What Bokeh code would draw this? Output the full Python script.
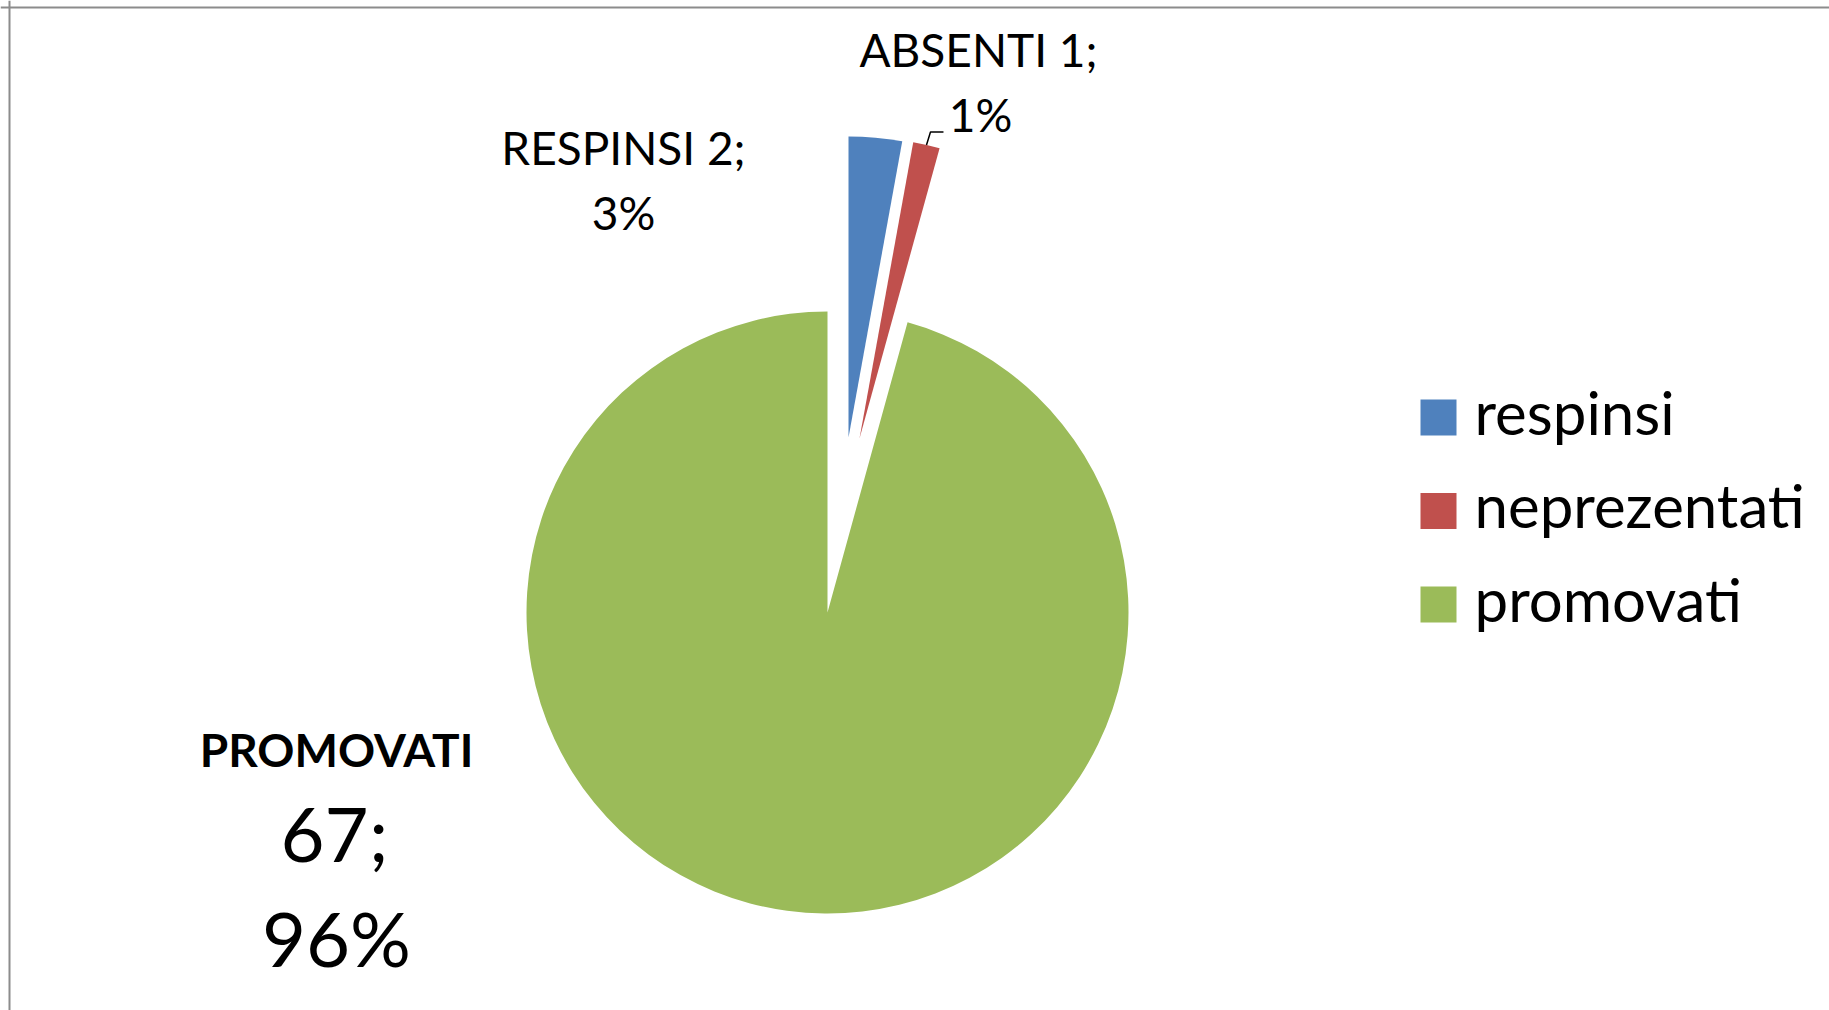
import math
from bokeh.plotting import figure
from bokeh.models import Range1d, Span
from bokeh.core.properties import value
from bokeh.embed import file_html
from bokeh.resources import INLINE

# ---- data ----
categories = ["respinsi", "neprezentati", "promovati"]
label_names = ["RESPINSI", "ABSENTI", "PROMOVATI"]
counts = [2, 1, 67]
colors = ["#4F81BD", "#C0504D", "#9BBB59"]

# ---- layout / style ----
W, H = 1829, 1010
FONT = "Lato"
BL = 0.4  # baseline correction (em)
p = figure(width=W, height=H, x_range=Range1d(0, W), y_range=Range1d(-H, 0),
           output_backend="svg", toolbar_location=None, min_border=0)
p.axis.visible = False
p.grid.visible = False
p.outline_line_color = None
p.background_fill_color = "white"
p.border_fill_color = "white"

# frame lines (left, top)
p.add_layout(Span(location=9, dimension="height", line_color="#8c8c8c", line_width=2))
p.add_layout(Span(location=-7, dimension="width", line_color="#8c8c8c", line_width=2))


def txt(x, baseline, s, size, align="center", bold=False):
    p.text(x=[x], y=[-(baseline - BL * size)], text=[s], text_align=align,
           text_baseline="alphabetic", text_font=value(FONT),
           text_font_style="bold" if bold else "normal",
           text_font_size=f"{size}px", text_color="black")


total = sum(counts)
cx, cy, r = 827, -612, 301
explode = [(21, 175), (32, 174), (0, 0)]  # per-slice explosion offset (px)

starts, ends, mids = [], [], []
acc = 0
for v in counts:
    a0 = 2 * math.pi * acc / total
    acc += v
    a1 = 2 * math.pi * acc / total
    starts.append(math.pi / 2 - a0)
    ends.append(math.pi / 2 - a1)
    mids.append((a0 + a1) / 2)

xs = [cx + dx for dx, dy in explode]
ys = [cy + dy for dx, dy in explode]
p.wedge(x=xs, y=ys, radius=r, start_angle=starts, end_angle=ends, direction="clock",
        fill_color=colors, line_color=None)

pcts = [round(v / total * 100) for v in counts]

# data labels for the two small slices
small_pos = [(623, 165, 230), (978, 67, 132)]
for i, (lx, b1, b2) in enumerate(small_pos):
    txt(lx, b1, f"{label_names[i]} {counts[i]};", 46)
    txt(lx + (2 if i == 1 else 0), b2, f"{pcts[i]}%", 46)

# leader line for red slice
i = 1
ox = xs[i] + r * math.sin(mids[i])
oy = ys[i] + r * math.cos(mids[i])
p.line(x=[ox, ox + 4, ox + 17], y=[oy, oy + 13, oy + 13], line_color="black", line_width=1.5)

# label for big slice
i = 2
txt(336, 767, label_names[i], 46, bold=True)
txt(334, 862, f"{counts[i]};", 76)
txt(336, 967, f"{pcts[i]}%", 76)

# legend (manual)
leg_y = [417 + 93.5 * k for k in range(len(categories))]
p.rect(x=[1438] * len(categories), y=[-y for y in leg_y], width=36, height=36,
       width_units="screen", height_units="screen", fill_color=colors, line_color=None)
for k, name in enumerate(categories):
    txt(1474, leg_y[k] + 18, name, 60, align="left")

open("out.html", "w").write(file_html(p, INLINE))
